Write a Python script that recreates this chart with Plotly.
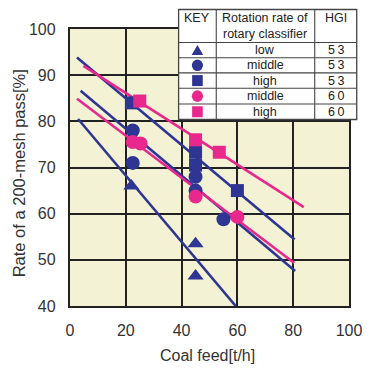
import plotly.graph_objects as go

# ---- data ----
low53_x = [22, 45, 45]
low53_y = [66, 53.5, 46.5]
mid53_x = [22.5, 22.5, 45, 45, 55]
mid53_y = [78, 71, 68, 65, 58.8]
high53_x = [22, 45, 45, 60]
high53_y = [84, 73.3, 70.5, 65]
mid60_x = [22.5, 25.3, 45, 60]
mid60_y = [75.5, 75.2, 63.7, 59.3]
high60_x = [25, 45, 53.5]
high60_y = [84.4, 76, 73.3]

# fitted lines (endpoints)
fit_high53_x = [2.5, 80.5]
fit_high53_y = [93.8, 54.4]
fit_mid53_x = [3.8, 80.7]
fit_mid53_y = [86.6, 47.6]
fit_low53_x = [2.9, 59.4]
fit_low53_y = [80.5, 40]
fit_mid60_x = [2.5, 80.4]
fit_mid60_y = [84.9, 49.3]
fit_high60_x = [4.8, 83.8]
fit_high60_y = [92.0, 61.4]

x_ticks = [0, 20, 40, 60, 80, 100]
y_ticks = [40, 50, 60, 70, 80, 90, 100]

key_rotation = ["low", "middle", "high", "middle", "high"]
key_hgi = ["5\u20093", "5\u20093", "5\u20093", "6\u20090", "6\u20090"]

BLUE = "#2e3593"
PINK = "#e8288c"
FONT = "Liberation Sans, Arial, sans-serif"

# the page has an 8px body margin; size the figure so that the plot lands
# at page pixels x 70..359, y 29..306
OFF = 8
W, H = 374 - OFF, 368 - OFF
PL, PR, PT, PB = 70, 359, 29, 306   # plot area in page pixels
L, R, T, B = PL - OFF, W - (PR - OFF), PT - OFF, H - (PB - OFF)
PW, PH = PR - PL, PB - PT


def px(x):
    return (x - PL) / PW


def py(y):
    return (PB - y) / PH


fig = go.Figure()

for fx, fy, col in [
    (fit_high53_x, fit_high53_y, BLUE),
    (fit_mid53_x, fit_mid53_y, BLUE),
    (fit_low53_x, fit_low53_y, BLUE),
    (fit_mid60_x, fit_mid60_y, PINK),
    (fit_high60_x, fit_high60_y, PINK),
]:
    fig.add_trace(go.Scatter(x=fx, y=fy, mode="lines",
                             line=dict(color=col, width=2.6),
                             showlegend=False, hoverinfo="skip"))

series = [
    (low53_x, low53_y, "triangle-up", BLUE, 14),
    (mid53_x, mid53_y, "circle", BLUE, 14),
    (high53_x, high53_y, "square", BLUE, 13),
    (mid60_x, mid60_y, "circle", PINK, 14),
    (high60_x, high60_y, "square", PINK, 13),
]
for sx, sy, sym, col, sz in series:
    fig.add_trace(go.Scatter(x=sx, y=sy, mode="markers",
                             marker=dict(symbol=sym, color=col, size=sz, line=dict(width=0)),
                             showlegend=False, cliponaxis=False))

# ---- key table (page-pixel geometry converted to paper coords) ----
tx0, tx1, tx2, tx3 = 182.5, 221.5, 323.5, 367
ty_head0 = 9.5
row_edges = [42.5, 57.7, 72.9, 88.3, 104, 119.5]
LINE = "#444"

shapes = []
shapes.append(dict(type="rect", xref="paper", yref="paper",
                   x0=px(tx0), x1=px(tx3), y0=py(ty_head0), y1=py(row_edges[-1]),
                   fillcolor="white", line=dict(color=LINE, width=1.3), layer="above"))
for xv in [tx1, tx2]:
    shapes.append(dict(type="line", xref="paper", yref="paper",
                       x0=px(xv), x1=px(xv), y0=py(ty_head0), y1=py(row_edges[-1]),
                       line=dict(color=LINE, width=1.1), layer="above"))
for yv in row_edges[:-1]:
    shapes.append(dict(type="line", xref="paper", yref="paper",
                       x0=px(tx0), x1=px(tx3), y0=py(yv), y1=py(yv),
                       line=dict(color=LINE, width=1.1), layer="above"))

# key symbols
kx = (tx0 + tx1) / 2
for i, (_, _, sym, col, _) in enumerate(series):
    yc = (row_edges[i] + row_edges[i + 1]) / 2
    if sym == "circle":
        r = 5.8
        shapes.append(dict(type="circle", xref="paper", yref="paper",
                           x0=px(kx - r), x1=px(kx + r), y0=py(yc + r), y1=py(yc - r),
                           fillcolor=col, line=dict(width=0), layer="above"))
    elif sym == "square":
        r = 5.5
        shapes.append(dict(type="rect", xref="paper", yref="paper",
                           x0=px(kx - r), x1=px(kx + r), y0=py(yc + r), y1=py(yc - r),
                           fillcolor=col, line=dict(width=0), layer="above"))
    else:
        hw, hh = 6, 5
        path = "M {:.5f} {:.5f} L {:.5f} {:.5f} L {:.5f} {:.5f} Z".format(
            px(kx - hw), py(yc + hh), px(kx + hw), py(yc + hh), px(kx), py(yc - hh))
        shapes.append(dict(type="path", xref="paper", yref="paper", path=path,
                           fillcolor=col, line=dict(width=0), layer="above"))

annotations = []


def txt(x, y, s, size=12.5, angle=0, color="#222"):
    annotations.append(dict(x=px(x), y=py(y), xref="paper", yref="paper", text=s,
                            showarrow=False, xanchor="center", yanchor="middle",
                            textangle=angle,
                            font=dict(family=FONT, size=size, color=color)))


txt((tx0 + tx1) / 2, 18.5, "KEY")
txt((tx1 + tx2) / 2, 18.5, "Rotation rate of")
txt((tx1 + tx2) / 2, 34, "rotary classifier")
txt((tx2 + tx3) / 2, 18.5, "HGI")
for i in range(5):
    yc = (row_edges[i] + row_edges[i + 1]) / 2
    txt((tx1 + tx2) / 2, yc, key_rotation[i])
    txt((tx2 + tx3) / 2, yc, key_hgi[i])

# axis titles
txt(17, 173.5, "Rate of a 200-mesh pass[%]", size=16.5, angle=-90, color="#333")
txt(212, 355, "Coal feed[t/h]", size=16, color="#333")

fig.update_layout(
    width=W, height=H,
    margin=dict(l=L, r=R, t=T, b=B),
    paper_bgcolor="white",
    plot_bgcolor="#f4f2d4",
    font=dict(family=FONT, color="#333"),
    showlegend=False,
    xaxis=dict(range=[0, 100], tickvals=x_ticks, showgrid=True,
               gridcolor="#222", gridwidth=1.8, zeroline=False,
               showline=True, linecolor="#222", linewidth=2.4, mirror=True,
               ticks="", tickfont=dict(size=16, color="#333"), ticklabelstandoff=9),
    yaxis=dict(range=[40, 100], tickvals=y_ticks, showgrid=True,
               gridcolor="#222", gridwidth=1.8, zeroline=False,
               showline=True, linecolor="#222", linewidth=2.4, mirror=True,
               ticks="", tickfont=dict(size=16, color="#333"), ticklabelstandoff=9),
    shapes=shapes,
    annotations=annotations,
)

fig.write_html("out.html", config={"displayModeBar": False})
